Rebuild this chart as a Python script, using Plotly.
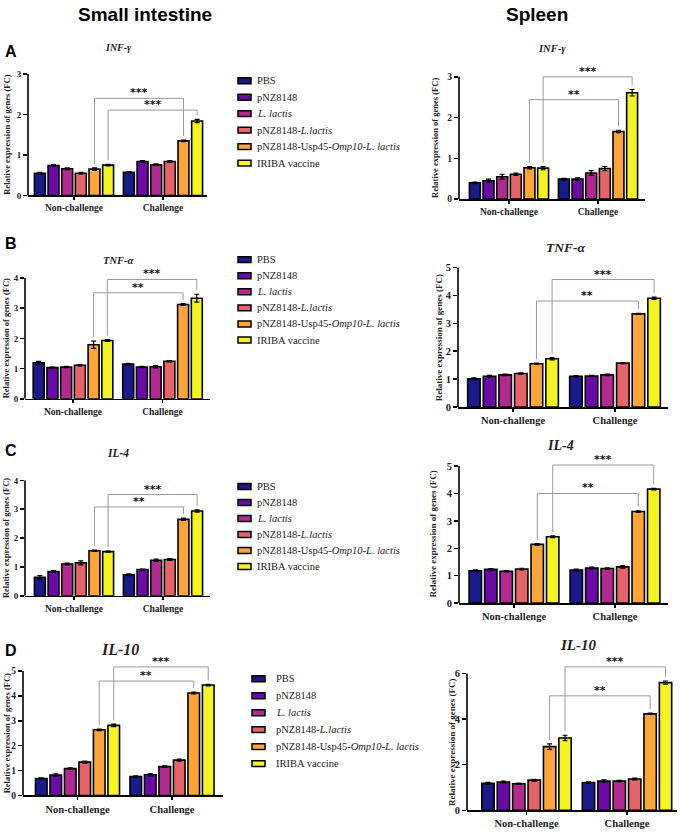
import plotly.graph_objects as go

W, H = 685, 836
SERIF = "Liberation Serif, Times New Roman, serif"
SANS = "Liberation Sans, Arial, sans-serif"

# ---------------- data ----------------
categories = ["Non-challenge", "Challenge"]
groups = ["PBS", "pNZ8148", "L. lactis", "pNZ8148-L.lactis",
          "pNZ8148-Usp45-Omp10-L. lactis", "IRIBA vaccine"]
legend_labels = ["PBS", "pNZ8148", "<i>L. lactis</i>", "pNZ8148-<i>L.lactis</i>",
                 "pNZ8148-Usp45-<i>Omp10-L. lactis</i>", "IRIBA vaccine"]
bar_colors = ["#1b1a8a", "#6a0ba8", "#b12a90", "#e5646a", "#fca63a", "#f4f422"]

# Small intestine INF-gamma
si_infg_non = [0.55, 0.74, 0.66, 0.55, 0.65, 0.75]
si_infg_ch = [0.57, 0.84, 0.76, 0.84, 1.35, 1.84]
si_infg_err_non = [0.02, 0.02, 0.02, 0.02, 0.03, 0.02]
si_infg_err_ch = [0.02, 0.02, 0.02, 0.02, 0.02, 0.04]
# Spleen INF-gamma
sp_infg_non = [0.40, 0.45, 0.55, 0.61, 0.77, 0.76]
sp_infg_ch = [0.49, 0.49, 0.64, 0.75, 1.66, 2.61]
sp_infg_err_non = [0.02, 0.04, 0.06, 0.03, 0.03, 0.04]
sp_infg_err_ch = [0.02, 0.03, 0.06, 0.05, 0.03, 0.08]
# Small intestine TNF-alpha
si_tnf_non = [1.19, 1.03, 1.05, 1.11, 1.79, 1.93]
si_tnf_ch = [1.15, 1.05, 1.06, 1.24, 3.12, 3.33]
si_tnf_err_non = [0.05, 0.02, 0.02, 0.02, 0.12, 0.03]
si_tnf_err_ch = [0.02, 0.02, 0.04, 0.02, 0.03, 0.13]
# Spleen TNF-alpha
sp_tnf_non = [1.01, 1.10, 1.15, 1.20, 1.55, 1.73]
sp_tnf_ch = [1.10, 1.11, 1.15, 1.57, 3.34, 3.90]
sp_tnf_err_non = [0.03, 0.03, 0.03, 0.02, 0.02, 0.04]
sp_tnf_err_ch = [0.02, 0.02, 0.03, 0.02, 0.02, 0.04]
# Small intestine IL-4
si_il4_non = [0.64, 0.84, 1.10, 1.14, 1.56, 1.53]
si_il4_ch = [0.73, 0.91, 1.23, 1.26, 2.65, 2.94]
si_il4_err_non = [0.06, 0.03, 0.03, 0.07, 0.02, 0.02]
si_il4_err_ch = [0.03, 0.02, 0.04, 0.03, 0.04, 0.04]
# Spleen IL-4
sp_il4_non = [1.18, 1.23, 1.16, 1.24, 2.14, 2.42]
sp_il4_ch = [1.20, 1.28, 1.26, 1.32, 3.34, 4.16]
sp_il4_err_non = [0.03, 0.03, 0.02, 0.03, 0.03, 0.03]
sp_il4_err_ch = [0.04, 0.03, 0.02, 0.05, 0.03, 0.03]
# Small intestine IL-10
si_il10_non = [0.68, 0.82, 1.08, 1.34, 2.64, 2.82]
si_il10_ch = [0.76, 0.83, 1.16, 1.42, 4.12, 4.44]
si_il10_err_non = [0.03, 0.05, 0.03, 0.04, 0.03, 0.05]
si_il10_err_ch = [0.03, 0.05, 0.03, 0.04, 0.04, 0.03]
# Spleen IL-10
sp_il10_non = [1.18, 1.24, 1.16, 1.32, 2.79, 3.17]
sp_il10_ch = [1.22, 1.28, 1.28, 1.37, 4.23, 5.60]
sp_il10_err_non = [0.04, 0.04, 0.03, 0.04, 0.12, 0.12]
sp_il10_err_ch = [0.03, 0.05, 0.03, 0.04, 0.03, 0.07]

# significance brackets: (group index, bracket height, label)
si_infg_sig = [(4, 2.40, "***"), (5, 2.11, "***")]
sp_infg_sig = [(5, 3.00, "***"), (4, 2.44, "**")]
si_tnf_sig = [(4, 3.51, "**"), (5, 3.95, "***")]
sp_tnf_sig = [(4, 3.80, "**"), (5, 4.57, "***")]
si_il4_sig = [(4, 3.08, "**"), (5, 3.51, "***")]
sp_il4_sig = [(4, 4.00, "**"), (5, 5.04, "***")]
si_il10_sig = [(4, 4.60, "**"), (5, 5.17, "***")]
sp_il10_sig = [(4, 5.02, "**"), (5, 6.29, "***")]

# y tick labels per panel
si_infg_ticks = [0, 1, 2, 3]
sp_infg_ticks = [0, 1, 2, 3]
si_tnf_ticks = [0, 1, 2, 3, 4]
sp_tnf_ticks = [0, 1, 2, 3, 4, 5]
si_il4_ticks = [0, 1, 2, 3, 4]
sp_il4_ticks = [0, 1, 2, 3, 4, 5]
si_il10_ticks = [0, 1, 2, 3, 4, 5]
sp_il10_ticks = [0, 2, 4, 6]

gene_titles = ["INF-γ", "INF-γ", "TNF-α", "TNF-α", "IL-4", "IL-4", "IL-10", "IL-10"]

panel_data = [
    (si_infg_non, si_infg_ch, si_infg_err_non, si_infg_err_ch, si_infg_sig, si_infg_ticks),
    (sp_infg_non, sp_infg_ch, sp_infg_err_non, sp_infg_err_ch, sp_infg_sig, sp_infg_ticks),
    (si_tnf_non, si_tnf_ch, si_tnf_err_non, si_tnf_err_ch, si_tnf_sig, si_tnf_ticks),
    (sp_tnf_non, sp_tnf_ch, sp_tnf_err_non, sp_tnf_err_ch, sp_tnf_sig, sp_tnf_ticks),
    (si_il4_non, si_il4_ch, si_il4_err_non, si_il4_err_ch, si_il4_sig, si_il4_ticks),
    (sp_il4_non, sp_il4_ch, sp_il4_err_non, sp_il4_err_ch, sp_il4_sig, sp_il4_ticks),
    (si_il10_non, si_il10_ch, si_il10_err_non, si_il10_err_ch, si_il10_sig, si_il10_ticks),
    (sp_il10_non, sp_il10_ch, sp_il10_err_non, sp_il10_err_ch, sp_il10_sig, sp_il10_ticks),
]

# ---------------- geometry (pixels) ----------------
# xl, xr, first group centre, group spacing, zero px, px per unit, y-range max
geom = [
    (28, 207, 74, 89, 193.0, 41.0, 3.0),
    (459, 645, 509, 89, 196.7, 41.3, 3.4),
    (25, 210, 73, 89.5, 399.0, 30.6, 4.4),
    (458, 668, 513, 102, 407.3, 28.25, 5.1),
    (25, 210, 74, 89, 598.7, 29.25, 4.0),
    (459, 668, 514, 101, 606.0, 27.75, 5.55),
    (23, 223, 77.5, 94.5, 801.0, 25.2, 5.65),
    (467, 677, 526.5, 100.5, 816.0, 23.1, 6.85),
]
# title centre x, y, size; y-title x, size; tick font size; category font size
text_geom = [
    (118, 43, 10, 7, 8.5, 9, 9.5),
    (552, 44, 10.5, 435, 8.5, 9.5, 9.5),
    (118, 259, 10.5, 6, 8.5, 9, 9.5),
    (565, 246, 13.5, 439, 9, 10.5, 10.5),
    (118, 454, 11.5, 6, 8.5, 9, 9.5),
    (560, 446, 14, 433, 9, 10.5, 10.5),
    (120, 653, 16, 7, 8.5, 9.5, 10.5),
    (578, 649, 15, 452, 9, 10.5, 10.5),
]
# legend: swatch x0, swatch x1, text x, first item y, item spacing
legend_geom = [
    (238, 251, 255, 76.7, 16.7),
    (238, 251, 255, 258.0, 16.3),
    (238, 251, 255, 488.0, 16.2),
    (252, 265, 274, 682.7, 17.2),
]

BARGAP = 0.08
fig = go.Figure()
shapes, annotations = [], []
layout = {}


def px(x):
    return x / W


def py(y):
    return 1 - y / H


for p in range(8):
    non, ch, enon, ech, sig, ticks = panel_data[p]
    xl, xr, c0, s, zpx, unit, R = geom[p]
    tx, ty, tsize, ytx, ytsize, tickfs, catfs = text_geom[p]
    sfx = "" if p == 0 else str(p + 1)
    xa, ya = "x" + sfx, "y" + sfx
    for g in range(6):
        fig.add_trace(go.Bar(
            x=[0, 1], y=[non[g], ch[g]], name=groups[g],
            marker=dict(color=bar_colors[g], line=dict(color="black", width=1.6)),
            error_y=dict(type="data", array=[enon[g], ech[g]], color="black",
                         thickness=1.2, width=2.5),
            xaxis=xa, yaxis=ya, showlegend=False, hoverinfo="skip",
        ))

    layout["xaxis" + sfx] = dict(
        domain=[px(xl), px(xr)], range=[(xl - c0) / s, (xr - c0) / s], anchor=ya,
        tickvals=[0, 1], ticktext=categories, showline=True, linecolor="black",
        linewidth=1.6, ticks="outside", ticklen=3, tickwidth=1.5, tickcolor="black",
        showgrid=False, zeroline=False, fixedrange=True,
        tickfont=dict(family=SERIF, size=catfs, color="#222", weight="bold"),
    )
    layout["yaxis" + sfx] = dict(
        domain=[py(zpx), py(zpx - R * unit)], range=[0, R], anchor=xa, tickvals=ticks,
        showline=False, ticks="outside", ticklen=4, tickwidth=1.5, tickcolor="black",
        showgrid=False, zeroline=False, fixedrange=True,
        tickfont=dict(family=SERIF, size=tickfs, color="#222", weight="bold"),
    )
    # y axis line up to top tick
    shapes.append(dict(type="line", xref=xa + " domain", yref=ya, x0=0, x1=0,
                       y0=0, y1=ticks[-1], line=dict(color="black", width=1.6)))
    # significance brackets
    gap = 4 / unit
    for gi, h, lab in sig:
        off = ((gi + 0.5) / 6 - 0.5) * (1 - BARGAP)
        x1, x2 = 0 + off, 1 + off
        b1 = non[gi] + enon[gi] + gap
        b2 = ch[gi] + ech[gi] + gap
        lc = dict(color="#9a9a9a", width=1)
        shapes.append(dict(type="line", xref=xa, yref=ya, x0=x1, x1=x1, y0=b1, y1=h, line=lc))
        shapes.append(dict(type="line", xref=xa, yref=ya, x0=x1, x1=x2, y0=h, y1=h, line=lc))
        shapes.append(dict(type="line", xref=xa, yref=ya, x0=x2, x1=x2, y0=b2, y1=h, line=lc))
        annotations.append(dict(xref=xa, yref=ya, x=(x1 + x2) / 2, y=h, text="<b>%s</b>" % lab,
                                showarrow=False, yanchor="bottom", yshift=-3, opacity=0.99,
                                font=dict(family="DejaVu Sans", size=11, color="#111")))
    # gene title
    annotations.append(dict(xref="paper", yref="paper", x=px(tx), y=py(ty),
                            text="<b><i>%s</i></b>" % gene_titles[p], showarrow=False,
                            xanchor="center", yanchor="middle",
                            font=dict(family=SERIF, size=tsize, color="#222")))
    # y-axis title
    ymid = zpx - ticks[-1] * unit / 2
    annotations.append(dict(xref="paper", yref="paper", x=px(ytx), y=py(ymid),
                            text="<b>Relative expression of genes (FC)</b>", textangle=-90,
                            showarrow=False, xanchor="center", yanchor="middle",
                            font=dict(family=SERIF, size=ytsize, color="#222")))

# column headings and panel letters
annotations.append(dict(xref="paper", yref="paper", x=px(145), y=py(10),
                        text="<b>Small intestine</b>", showarrow=False,
                        xanchor="center", yanchor="middle",
                        font=dict(family=SANS, size=19, color="black")))
annotations.append(dict(xref="paper", yref="paper", x=px(537), y=py(10),
                        text="<b>Spleen</b>", showarrow=False,
                        xanchor="center", yanchor="middle",
                        font=dict(family=SANS, size=19, color="black")))
for letter, ly in zip(["A", "B", "C", "D"], [47, 242, 451, 654]):
    annotations.append(dict(xref="paper", yref="paper", x=px(11), y=py(ly),
                            text="<b>%s</b>" % letter, showarrow=False,
                            xanchor="center", yanchor="middle",
                            font=dict(family=SANS, size=16, color="black")))

# legends (one beside each small-intestine panel)
for sx0, sx1, tx, y0, dy in legend_geom:
    for g in range(6):
        yc = y0 + g * dy
        shapes.append(dict(type="rect", xref="paper", yref="paper",
                           x0=px(sx0), x1=px(sx1), y0=py(yc + 3), y1=py(yc - 3),
                           fillcolor=bar_colors[g], line=dict(color="black", width=1.5)))
        annotations.append(dict(xref="paper", yref="paper", x=px(tx), y=py(yc),
                                text=legend_labels[g], showarrow=False,
                                xanchor="left", yanchor="middle",
                                font=dict(family=SERIF, size=10.5, color="#222")))

fig.update_layout(
    width=W, height=H, margin=dict(l=0, r=0, t=0, b=0),
    paper_bgcolor="white", plot_bgcolor="white",
    barmode="group", bargap=BARGAP, bargroupgap=0.2, hovermode=False,
    shapes=shapes, annotations=annotations, showlegend=False, **layout,
)
fig.write_html("out.html", config={"displayModeBar": False, "staticPlot": True},
               post_script="document.body.style.margin='0px';")
